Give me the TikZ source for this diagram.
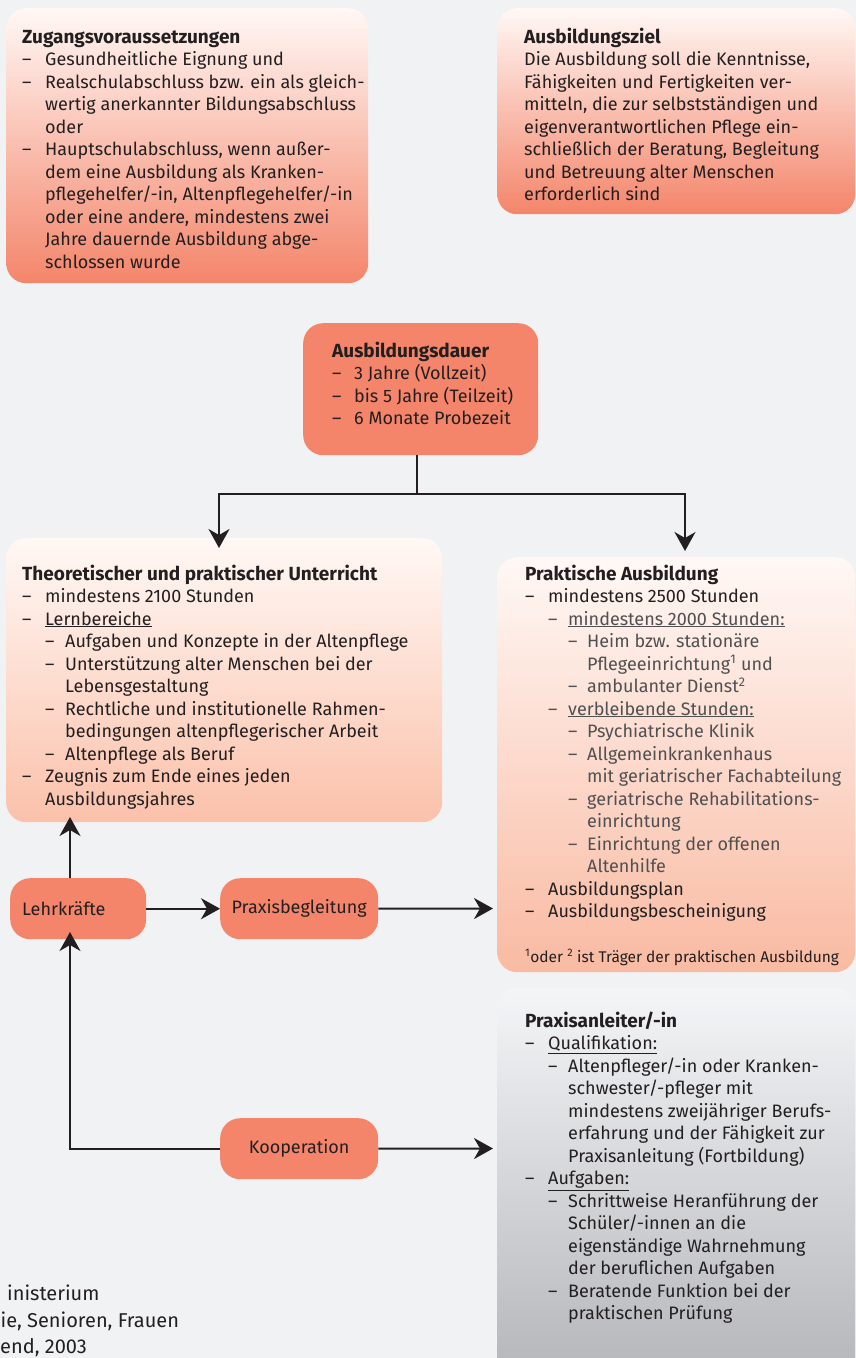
\documentclass[tikz,border=0pt]{standalone}
\usepackage{fontspec}
\setmainfont{Fira Sans}
\usetikzlibrary{arrows.meta}
\definecolor{bg}{HTML}{F1F2F4}
\definecolor{salmon}{HTML}{F4856A}
\definecolor{ink}{HTML}{231F20}
\definecolor{inkgray}{HTML}{505052}
\definecolor{topwhite}{HTML}{FFF8F5}
\definecolor{midsalmon}{HTML}{FBC1AA}
\definecolor{midsalmonB}{HTML}{F9BAA2}
\definecolor{graytop}{HTML}{F4F5F7}
\definecolor{graybot}{HTML}{B3B4B7}
\newcommand\dashA{\makebox[23pt][l]{–}}
\newcommand\dashB{\hspace*{23pt}\makebox[20pt][l]{–}}
\newcommand\dashC{\hspace*{43pt}\makebox[19pt][l]{–}}
\newcommand\contA{\hspace*{23pt}}
\newcommand\contB{\hspace*{43pt}}
\newcommand\contC{\hspace*{62pt}}
\newcommand\ttl[1]{{\fontsize{19}{22.5}\selectfont\bfseries #1}}
\newcommand\txtblock[1]{\vtop{\fontsize{18}{22.5}\selectfont\halign{##\hfil\cr#1\crcr}}}
\tikzset{
  box/.style={draw=none, rounded corners=20pt, anchor=north west, inner sep=0pt},
  solidbox/.style={box, fill=salmon},
  txt/.style={anchor=base west, inner sep=0pt, text=ink},
  pill/.style={solidbox, font=\fontsize{18}{20}\selectfont, text=ink},
  srcline/.style={anchor=base west, inner sep=0pt, text=ink, font=\fontsize{20}{22}\selectfont},
  ln/.style={draw=ink, line width=2pt},
  arr/.style={ln, -{Stealth[length=19pt,width=21pt,inset=6pt]}}
}
\begin{document}
\begin{tikzpicture}[x=1pt,y=-1pt]
\useasboundingbox (0,0) rectangle (856,1358);
\clip (0,0) rectangle (856,1358);
\fill[bg] (0,0) rectangle (856,1358);

% boxes
\node[box, top color=topwhite, bottom color=salmon, minimum width=362pt, minimum height=275pt] (zug) at (6,8) {};
\node[box, top color=topwhite, bottom color=salmon, minimum width=358pt, minimum height=206pt] (ziel) at (497,8) {};
\node[solidbox, minimum width=235pt, minimum height=132pt] (dauer) at (303,323) {};
\node[box, top color=topwhite, bottom color=midsalmon, minimum width=436pt, minimum height=284pt] (theo) at (6,538) {};
\node[box, top color=topwhite, bottom color=midsalmonB, minimum width=358pt, minimum height=415pt] (prakt) at (497,557) {};
\node[box, top color=graytop, bottom color=graybot, minimum width=358pt, minimum height=400pt] (anleit) at (497,988) {};

% texts
\node[txt] (zugT) at (22,43) {\txtblock{%
\ttl{Zugangsvoraussetzungen}\cr
\dashA Gesundheitliche Eignung und\cr
\dashA Realschulabschluss bzw. ein als gleich-\cr
\contA wertig anerkannter Bildungsabschluss\cr
\contA oder\cr
\dashA Hauptschulabschluss, wenn außer-\cr
\contA dem eine Ausbildung als Kranken-\cr
\contA pflegehelfer/-in, Altenpflegehelfer/-in\cr
\contA oder eine andere, mindestens zwei\cr
\contA Jahre dauernde Ausbildung abge-\cr
\contA schlossen wurde}};

\node[txt] (zielT) at (524,43) {\txtblock{%
\ttl{Ausbildungsziel}\cr
Die Ausbildung soll die Kenntnisse,\cr
Fähigkeiten und Fertigkeiten ver-\cr
mitteln, die zur selbstständigen und\cr
eigenverantwortlichen Pflege ein-\cr
schließlich der Beratung, Begleitung\cr
und Betreuung alter Menschen\cr
erforderlich sind}};

\node[txt] (dauerT) at (332,357) {\txtblock{%
\ttl{Ausbildungsdauer}\cr
\makebox[22pt][l]{–}3 Jahre (Vollzeit)\cr
\makebox[22pt][l]{–}bis 5 Jahre (Teilzeit)\cr
\makebox[22pt][l]{–}6 Monate Probezeit}};

\node[txt] (theoT) at (22,580) {\txtblock{%
\ttl{Theoretischer und praktischer Unterricht}\cr
\dashA mindestens 2100 Stunden\cr
\dashA \underline{Lernbereiche}\cr
\dashB Aufgaben und Konzepte in der Altenpflege\cr
\dashB Unterstützung alter Menschen bei der\cr
\contB Lebensgestaltung\cr
\dashB Rechtliche und institutionelle Rahmen-\cr
\contB bedingungen altenpflegerischer Arbeit\cr
\dashB Altenpflege als Beruf\cr
\dashA Zeugnis zum Ende eines jeden\cr
\contA Ausbildungsjahres}};

\node[txt] (praktT) at (525,580) {\txtblock{%
\ttl{Praktische Ausbildung}\cr
\dashA mindestens 2500 Stunden\cr
\color{inkgray}\dashB \underline{mindestens 2000 Stunden:}\cr
\color{inkgray}\dashC Heim bzw. stationäre\cr
\color{inkgray}\contC Pflegeeinrichtung\textsuperscript{1} und\cr
\color{inkgray}\dashC ambulanter Dienst\textsuperscript{2}\cr
\color{inkgray}\dashB \underline{verbleibende Stunden:}\cr
\color{inkgray}\dashC Psychiatrische Klinik\cr
\color{inkgray}\dashC Allgemeinkrankenhaus\cr
\color{inkgray}\contC mit geriatrischer Fachabteilung\cr
\color{inkgray}\dashC geriatrische Rehabilitations-\cr
\color{inkgray}\contC einrichtung\cr
\color{inkgray}\dashC Einrichtung der offenen\cr
\color{inkgray}\contC Altenhilfe\cr
\dashA Ausbildungsplan\cr
\dashA Ausbildungsbescheinigung}};

\node[txt, font=\fontsize{15.5}{18}\selectfont] (fussT) at (525,962) {\textsuperscript{1}oder \textsuperscript{2} ist Träger der praktischen Ausbildung};

\node[txt] (anleitT) at (525,1027) {\txtblock{%
\ttl{Praxisanleiter/-in}\cr
\dashA \underline{Qualifikation:}\cr
\dashB Altenpfleger/-in oder Kranken-\cr
\contB schwester/-pfleger mit\cr
\contB mindestens zweijähriger Berufs-\cr
\contB erfahrung und der Fähigkeit zur\cr
\contB Praxisanleitung (Fortbildung)\cr
\dashA \underline{Aufgaben:}\cr
\dashB Schrittweise Heranführung der\cr
\contB Schüler/-innen an die\cr
\contB eigenständige Wahrnehmung\cr
\contB der beruflichen Aufgaben\cr
\dashB Beratende Funktion bei der\cr
\contB praktischen Prüfung}};

% small boxes
\node[pill, minimum width=124pt, minimum height=61pt, text width=112pt, align=left, inner xsep=12pt] (lehr) at (10,878) {Lehrkräfte};
\node[pill, minimum width=158pt, minimum height=61pt] (begl) at (220,878) {Praxisbegleitung};
\node[pill, minimum width=158pt, minimum height=61pt] (koop) at (220,1118) {Kooperation};

% source text (visible part, cut by the left edge in the reference)
\node[srcline] (q1) at (7,1300) {inisterium};
\node[srcline] (q2) at (0.5,1327) {ie, Senioren, Frauen};
\node[srcline] (q3) at (0,1353) {end, 2003};

% connectors
\coordinate (jn) at (417,494);
\coordinate (tA) at (219,548);
\coordinate (tB) at (685,551);
\draw[ln] (jn |- dauer.south) -- (jn);
\draw[arr] (jn) -| (tA);
\draw[arr] (jn) -| (tB);

\coordinate (tT) at (70,817);
\draw[arr] (tT |- lehr.north) -- (tT);
\draw[arr] (lehr.east) -- (begl.west);
\coordinate (tP) at (493,908.5);
\draw[arr] (begl.east) -- (tP);

\coordinate (tL) at (70,932);
\draw[arr] (koop.west) -| (tL);
\coordinate (tK) at (493,1148.5);
\draw[arr] (koop.east) -- (tK);
\end{tikzpicture}
\end{document}
